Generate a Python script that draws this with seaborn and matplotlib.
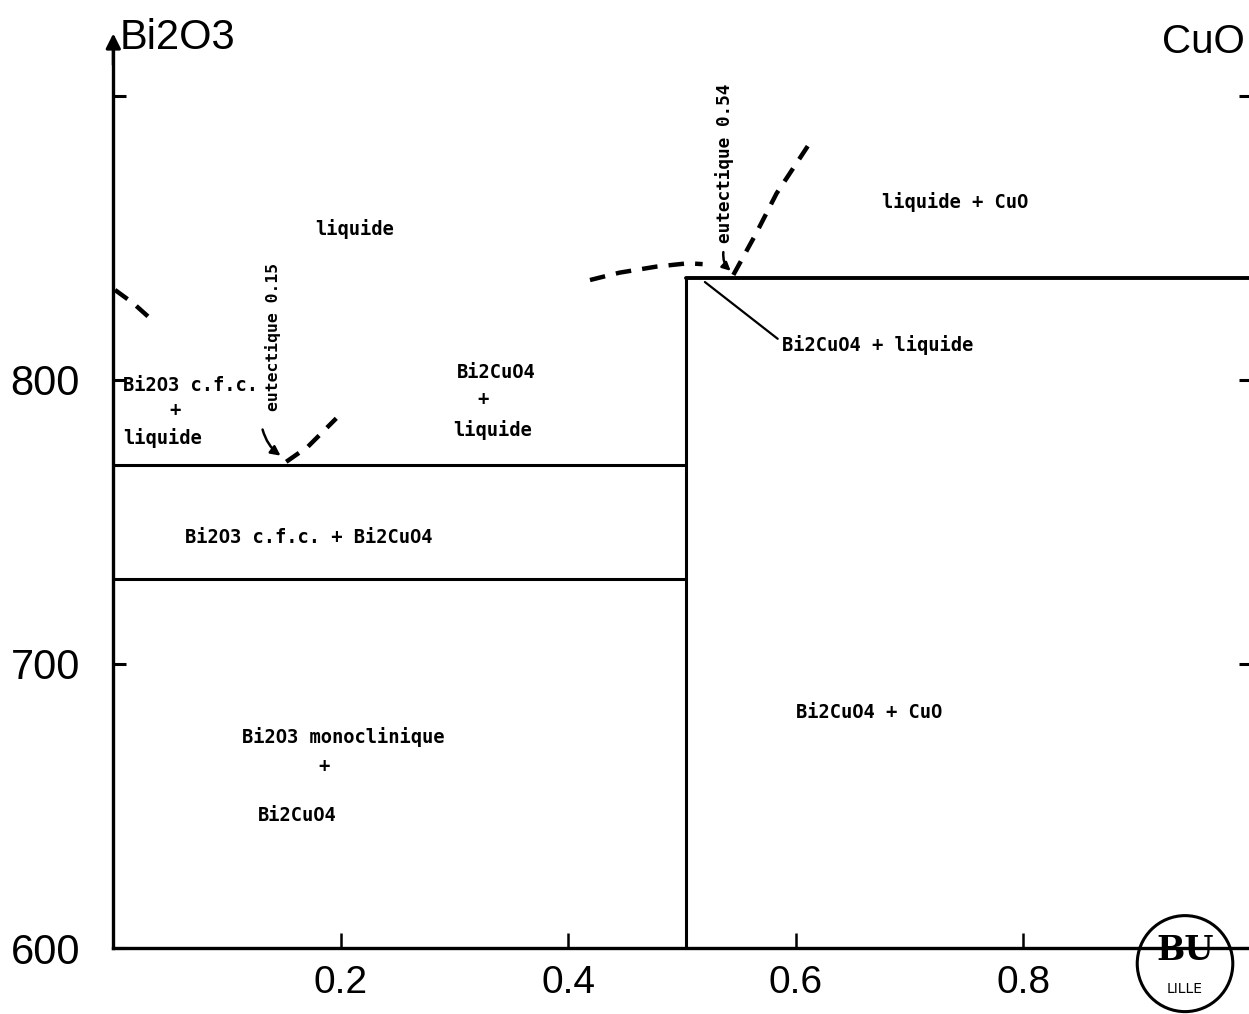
import matplotlib
matplotlib.use("Agg")
import matplotlib.pyplot as plt
import seaborn as sns
from matplotlib.patches import Ellipse

# --- données du diagramme Bi2O3 - CuO ---
x_ticks = [0.2, 0.4, 0.6, 0.8]
x_tick_labels = ["0.2", "0.4", "0.6", "0.8"]
y_ticks = [600, 700, 800, 900]
y_tick_labels = ["600", "700", "800", ""]

x_compose = 0.503          # Bi2CuO4
t_eut_015 = 770            # palier eutectique 0.15
t_transition = 730         # Bi2O3 monoclinique -> c.f.c.
t_eut_054 = 836            # palier eutectique 0.54

liq_left_x = [0.0015, 0.0176, 0.0366]
liq_left_y = [831.7, 827.0, 820.2]
liq_015_x = [0.152, 0.171, 0.196]
liq_015_y = [771.2, 776.5, 786.5]
liq_mid_x = [0.419, 0.445, 0.477, 0.505, 0.518]
liq_mid_y = [835.2, 837.8, 839.9, 841.1, 840.8]
liq_cuo_x = [0.545, 0.565, 0.583, 0.611]
liq_cuo_y = [837.0, 851.6, 865.7, 882.7]

# étiquettes des domaines : (texte, x, y)
domaines = [
    ("liquide", 0.212, 853.2),
    ("Bi2CuO4", 0.337, 802.5),
    ("+", 0.325, 793.0),
    ("liquide", 0.333, 782.4),
    ("Bi2O3 c.f.c. + Bi2CuO4", 0.172, 744.7),
    ("Bi2O3 monoclinique", 0.202, 674.3),
    ("+", 0.185, 664.0),
    ("Bi2CuO4", 0.162, 646.8),
    ("liquide + CuO", 0.740, 862.7),
    ("Bi2CuO4 + CuO", 0.664, 683.0),
]

sns.set_style("white")
plt.rcParams['font.family'] = ['DejaVu Sans']
plt.rcParams['text.color'] = 'black'
plt.rcParams['xtick.color'] = 'black'
plt.rcParams['ytick.color'] = 'black'
big_font = ['Liberation Sans', 'DejaVu Sans']
mono = dict(family='DejaVu Sans Mono', fontweight='bold', fontsize=13.5, color='black')

fig = plt.figure(figsize=(12.49, 10.14), dpi=100)
ax = fig.add_axes([113.3 / 1249, 66 / 1014, (1251 - 113.3) / 1249, 948 / 1014])
ax.set_xlim(0, 1.0)
ax.set_ylim(600, 933.8)

lw = 2.2
dash = dict(color='black', lw=3.2, linestyle=(0, (3.5, 2.5)), solid_capstyle='butt')

# paliers horizontaux
sns.lineplot(x=[0, x_compose], y=[t_eut_015, t_eut_015], ax=ax, color='black', lw=lw)
sns.lineplot(x=[0, x_compose], y=[t_transition, t_transition], ax=ax, color='black', lw=lw)
sns.lineplot(x=[x_compose, 1.0], y=[t_eut_054, t_eut_054], ax=ax, color='black', lw=2.8)
# composé Bi2CuO4
ax.vlines(x_compose, 600, t_eut_054, color='black', lw=lw)

# liquidus (tirets)
for xs, ys in [(liq_left_x, liq_left_y), (liq_015_x, liq_015_y),
               (liq_mid_x, liq_mid_y), (liq_cuo_x, liq_cuo_y)]:
    ax.plot(xs, ys, **dash)

# axes
for s in ['top', 'right']:
    ax.spines[s].set_visible(False)
for s in ['left', 'bottom']:
    ax.spines[s].set_linewidth(2.4)
    ax.spines[s].set_color('black')
ax.spines['left'].set_bounds(600, 918)
ax.annotate('', xy=(0, 923), xytext=(0, 910),
            arrowprops=dict(arrowstyle='-|>', color='black', lw=2.2, mutation_scale=22))

ax.set_xticks(x_ticks)
ax.set_xticklabels(x_tick_labels, family=big_font, fontsize=28)
ax.set_yticks(y_ticks)
ax.set_yticklabels(y_tick_labels, family=big_font, fontsize=30)
ax.tick_params(axis='x', direction='in', length=11, width=1.8, pad=12, bottom=True)
ax.tick_params(axis='y', direction='in', length=9, width=2.2, pad=24, left=True, right=True)

# titres des constituants
fig.text(120 / 1249, 1 - 38 / 1014, "Bi2O3", family=big_font, fontsize=30, va='center', ha='left')
fig.text(1162 / 1249, 1 - 42 / 1014, "CuO", family=big_font, fontsize=29, va='center', ha='left')

# noms des domaines
for txt, xx, yy in domaines:
    ax.text(xx, yy, txt, ha='center', va='center', **mono)
ax.text(0.0086, 797.9, "Bi2O3 c.f.c.", ha='left', va='center', **mono)
ax.text(0.054, 789.4, "+", ha='center', va='center', **mono)
ax.text(0.0086, 779.6, "liquide", ha='left', va='center', **mono)
ax.text(0.588, 812.3, "Bi2CuO4 + liquide", ha='left', va='center', **mono)
ax.plot([0.52, 0.584], [834.5, 814.5], color='black', lw=1.6)

# eutectiques
ax.text(0.1405, 815.2, "eutectique 0.15", rotation=90, ha='center', va='center',
        family='DejaVu Sans Mono', fontweight='bold', fontsize=11.8)
ax.annotate('', xy=(0.149, 772.8), xytext=(0.1306, 783.5),
            arrowprops=dict(arrowstyle='-|>', color='black', lw=1.8, mutation_scale=14,
                            connectionstyle='arc3,rad=0.2'))
ax.text(0.537, 876.4, "eutectique 0.54", rotation=90, ha='center', va='center',
        family='DejaVu Sans Mono', fontweight='bold', fontsize=12.8)
ax.annotate('', xy=(0.5445, 837.8), xytext=(0.5365, 846.0),
            arrowprops=dict(arrowstyle='-|>', color='black', lw=1.8, mutation_scale=12,
                            connectionstyle='arc3,rad=0.3'))

# tampon BU LILLE
ax.add_patch(Ellipse((0.942, 594.5), 0.084, 33.8, fill=False, lw=2.2,
                     edgecolor='black', clip_on=False))
ax.text(0.942, 599, "BU", ha='center', va='center', family='DejaVu Serif',
        fontsize=24, fontweight='bold', clip_on=False)
ax.text(0.942, 585.5, "LILLE", ha='center', va='center', family='DejaVu Sans',
        fontsize=10, clip_on=False)

ax.grid(False)
fig.savefig("out.png", dpi=100, facecolor='white')
